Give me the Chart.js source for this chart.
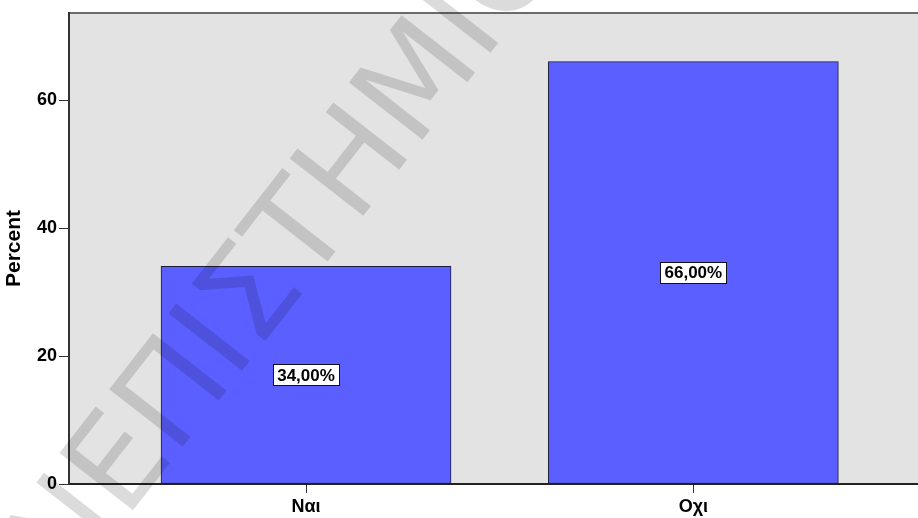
<!DOCTYPE html>
<html>
<head>
<meta charset="utf-8">
<script src="https://cdn.jsdelivr.net/npm/chart.js@4.4.1/dist/chart.umd.min.js"></script>
<style>
  html, body { margin: 0; padding: 0; background: #fff; }
  #wrap { width: 918px; height: 518px; position: relative; }
</style>
</head>
<body>
<div id="wrap"><canvas id="percentChart"></canvas></div>
<script>
  /* Data */
  var categories = ['Ναι', 'Οχι'];
  var percents = [34, 66];
  var yTicks = [0, 20, 40, 60];
  var watermark = 'ΠΑΝΕΠΙΣΤΗΜΙΟ';

  var barColor = '#5b5fff';
  var textFont = '"Liberation Sans", Arial, sans-serif';

  /* Plot background + top frame line */
  var plotBackground = {
    id: 'plotBackground',
    beforeDraw: function(chart) {
      var ctx = chart.ctx;
      var a = chart.chartArea;
      ctx.save();
      ctx.fillStyle = '#e3e3e3';
      ctx.fillRect(a.left, a.top, a.right - a.left, a.bottom - a.top);
      ctx.strokeStyle = '#6b6b6b';
      ctx.lineWidth = 2;
      ctx.beginPath();
      ctx.moveTo(a.left, a.top);
      ctx.lineTo(a.right, a.top);
      ctx.stroke();
      ctx.restore();
    }
  };

  /* Watermark + value boxes */
  var overlay = {
    id: 'overlay',
    afterDatasetsDraw: function(chart) {
      var ctx = chart.ctx;

      // watermark
      ctx.save();
      ctx.font = '128px "DejaVu Sans", sans-serif';
      var lead = ctx.measureText('ΠΑΝ').width + ctx.measureText('Ε').width / 2;
      ctx.translate(124, 468);
      ctx.rotate(-52 * Math.PI / 180);
      ctx.fillStyle = 'rgba(0, 0, 0, 0.14)';
      ctx.textAlign = 'left';
      ctx.textBaseline = 'middle';
      ctx.fillText(watermark, -lead, 0);
      ctx.restore();

      // labels
      var meta = chart.getDatasetMeta(0);
      meta.data.forEach(function(bar, i) {
        var text = percents[i].toFixed(2).replace('.', ',') + '%';
        var cx = bar.x;
        var cy = (bar.y + bar.base) / 2;
        ctx.save();
        ctx.font = 'bold 17px ' + textFont;
        var w = Math.round(ctx.measureText(text).width + 8);
        var h = 21;
        var x0 = Math.round(cx - w / 2) + 0.5;
        var y0 = Math.round(cy - h / 2) + 0.5;
        ctx.fillStyle = '#fff';
        ctx.fillRect(x0, y0, w, h);
        ctx.strokeStyle = '#111';
        ctx.lineWidth = 1;
        ctx.strokeRect(x0, y0, w, h);
        ctx.fillStyle = '#000';
        ctx.textAlign = 'center';
        ctx.textBaseline = 'middle';
        ctx.fillText(text, cx, cy + 1);
        ctx.restore();
      });
    }
  };

  window.addEventListener('DOMContentLoaded', function () {
    var ctx = document.getElementById('percentChart').getContext('2d');
    new Chart(ctx, {
      type: 'bar',
      data: {
        datasets: [{
          data: percents.map(function(v, i) { return { x: i + 1, y: v }; }),
          backgroundColor: barColor,
          borderColor: '#1c1c3c',
          borderWidth: 1,
          borderSkipped: false,
          barThickness: 290
        }]
      },
      options: {
        responsive: true,
        maintainAspectRatio: false,
        animation: false,
        layout: { padding: { top: 13, right: 0, left: 0, bottom: 0 } },
        plugins: {
          legend: { display: false },
          tooltip: { enabled: false }
        },
        scales: {
          x: {
            type: 'linear',
            offset: false,
            min: 0.388,
            max: 2.58,
            afterFit: function(scale) { scale.height = 34; },
            afterBuildTicks: function(scale) {
              scale.ticks = categories.map(function(c, i) { return { value: i + 1 }; });
            },
            grid: { display: true, offset: false, drawOnChartArea: false, drawTicks: true, tickLength: 9, tickColor: '#333', tickWidth: 1 },
            border: { display: true, color: '#222', width: 2 },
            ticks: {
              autoSkip: false,
              maxRotation: 0,
              padding: 3,
              color: '#000',
              font: { family: textFont, size: 18, weight: 'bold' },
              callback: function(v) { return categories[v - 1]; }
            }
          },
          y: {
            min: 0,
            max: 73.6,
            afterFit: function(scale) { scale.width = 69; },
            afterBuildTicks: function(scale) {
              scale.ticks = yTicks.map(function(v) { return { value: v }; });
            },
            grid: { display: true, drawOnChartArea: false, drawTicks: true, tickLength: 10, tickColor: '#333', tickWidth: 1 },
            border: { display: true, color: '#333', width: 2 },
            title: {
              display: true,
              text: 'Percent',
              color: '#000',
              padding: { top: 2, bottom: 0 },
              font: { family: textFont, size: 21, weight: 'bold' }
            },
            ticks: {
              padding: 2,
              color: '#000',
              font: { family: textFont, size: 18, weight: 'bold' }
            }
          }
        }
      },
      plugins: [plotBackground, overlay]
    });
  });
</script>
</body>
</html>
